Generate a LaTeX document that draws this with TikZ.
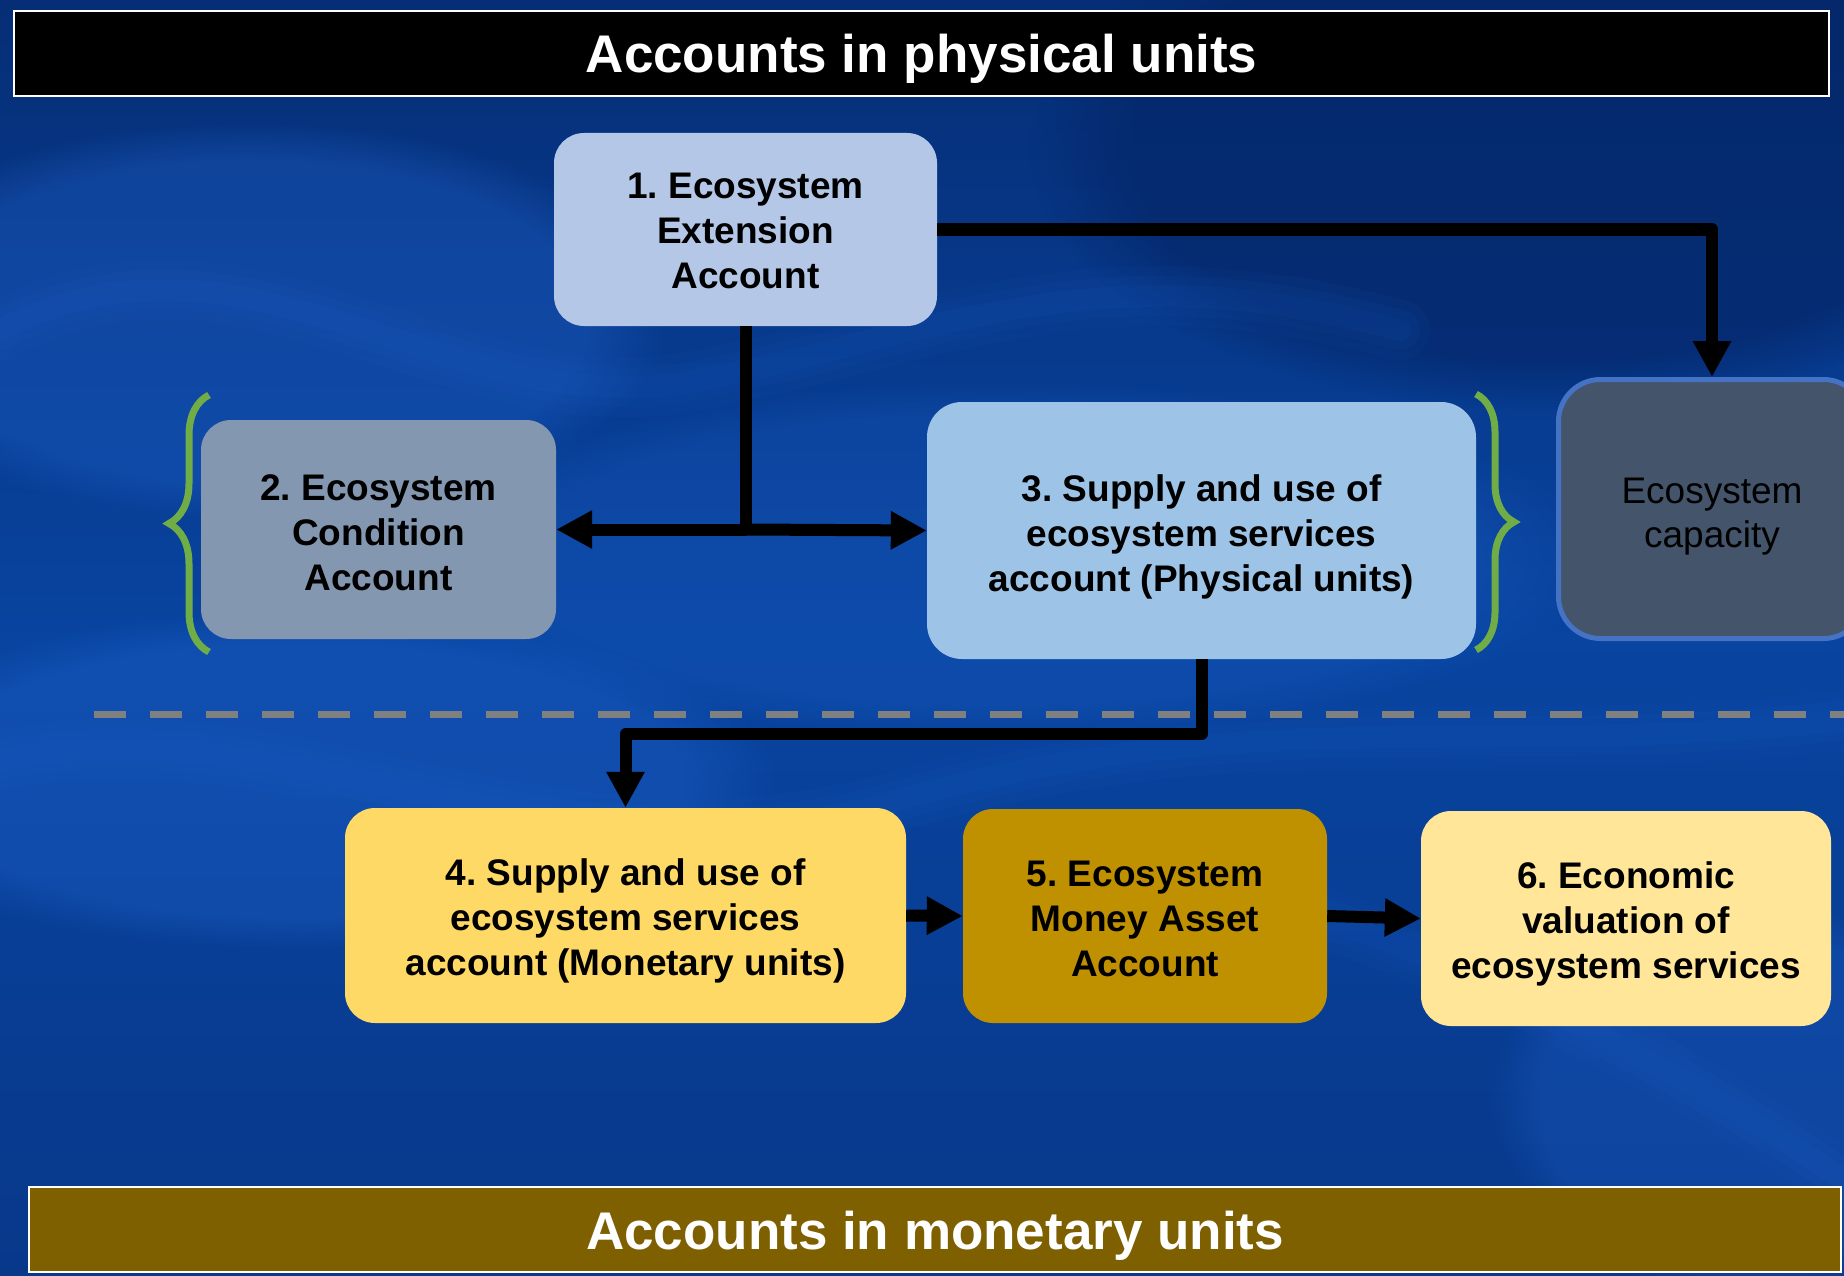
\documentclass[tikz,border=0pt]{standalone}
\usepackage{fontspec}
\setmainfont{Liberation Sans}
\frenchspacing
\usetikzlibrary{arrows.meta,decorations.pathreplacing,fadings}
\definecolor{bgtop}{RGB}{6,46,118}
\definecolor{bgmid}{RGB}{8,68,160}
\definecolor{bgbot}{RGB}{8,56,138}
\definecolor{glow}{RGB}{35,105,215}
\definecolor{dark}{RGB}{4,36,100}
\definecolor{cone}{RGB}{180,199,231}
\definecolor{ctwo}{RGB}{132,151,176}
\definecolor{cthree}{RGB}{157,195,230}
\definecolor{capfill}{RGB}{68,84,106}
\definecolor{capedge}{RGB}{68,114,196}
\definecolor{cfour}{RGB}{255,217,102}
\definecolor{cfive}{RGB}{191,144,0}
\definecolor{csix}{RGB}{255,230,153}
\definecolor{botbar}{RGB}{127,96,0}
\definecolor{sepgray}{RGB}{128,128,128}
\definecolor{bracegreen}{RGB}{112,173,71}
\newcommand{\lift}[1]{\rule{0pt}{#1pt}}
\begin{document}
\begin{tikzpicture}[x=1pt,y=-1pt,
  box/.style={rounded corners=30pt, inner sep=0pt, align=center,
              font=\fontsize{37}{45}\selectfont\bfseries\frenchspacing},
  bar/.style={draw=white, line width=2.5pt, inner sep=0pt, minimum height=85pt,
              text height=39pt, text depth=0pt,
              text=white, font=\fontsize{53}{60}\selectfont\bfseries},
  conn/.style={line width=12pt, line join=round, draw=black},
  tip/.style={-{Triangle[length=36pt,width=36pt]}},
  brc/.style={draw=bracegreen, line width=7pt, decorate},
  band/.style={draw=glow, line cap=round}
]
\useasboundingbox (0,0) rectangle (1844,1276);
\clip (0,0) rectangle (1844,1276);
% background
\shade[top color=bgtop, bottom color=bgbot, middle color=bgmid] (0,0) rectangle (1844,1276);
\fill[dark, opacity=0.6, path fading=circle with fuzzy edge 20 percent] (1550,150) ellipse (520pt and 260pt);
\fill[glow, opacity=0.3, path fading=circle with fuzzy edge 20 percent] (250,320) ellipse (420pt and 200pt);
\fill[glow, opacity=0.3, path fading=circle with fuzzy edge 20 percent] (300,780) ellipse (480pt and 170pt);
\fill[glow, opacity=0.2, path fading=circle with fuzzy edge 20 percent] (1000,560) ellipse (600pt and 180pt);
\fill[glow, opacity=0.25, path fading=circle with fuzzy edge 20 percent] (1750,1100) ellipse (260pt and 200pt);
\foreach \w/\o in {60/0.05,40/0.06,22/0.07}{
  \draw[band, line width=\w pt, opacity=\o] (0,330) .. controls (250,200) and (450,430) .. (700,380) .. controls (950,330) and (1100,250) .. (1400,330);
  \draw[band, line width=\w pt, opacity=\o] (0,760) .. controls (300,700) and (550,900) .. (900,800) .. controls (1250,700) and (1500,760) .. (1844,720);
  \draw[band, line width=\w pt, opacity=\o] (1200,880) .. controls (1450,950) and (1650,1050) .. (1844,1180);
}
% title bars
\node[bar, fill=black, minimum width=1815pt] (top) at (921.5,53.5) {Accounts in physical units};
\node[bar, fill=botbar, minimum width=1812pt] (bot) at (935,1229.5) {Accounts in monetary units};
% separator
\coordinate (sepL) at (94,714);
\coordinate (sepR) at (1850,714);
\draw[sepgray, line width=7pt, dash pattern=on 32pt off 24pt] (sepL) -- (sepR);
% boxes
\node[box, fill=cone, minimum width=383pt, minimum height=193pt] (b1) at (745.5,229.5) {\lift{29}1. Ecosystem\\Extension\\Account};
\node[box, fill=ctwo, minimum width=355pt, minimum height=219pt] (b2) at (378.5,529.5) {\lift{32}2. Ecosystem\\Condition\\Account};
\node[box, rounded corners=35pt, fill=cthree, minimum width=549pt, minimum height=257pt] (b3) at (1201.5,530.5) {\lift{39}3. Supply and use of\\ecosystem services\\account (Physical units)};
\node[box, rounded corners=42pt, fill=capfill, draw=capedge, line width=5pt,
      font=\fontsize{37}{44}\selectfont, minimum width=307pt, minimum height=259pt] (cap) at (1712,509) {\lift{41}Ecosystem\\capacity};
\node[box, fill=cfour, minimum width=561pt, minimum height=215pt] (b4) at (625.5,915.5) {\lift{38}4. Supply and use of\\ecosystem services\\account (Monetary units)};
\node[box, fill=cfive, minimum width=364pt, minimum height=214pt] (b5) at (1145,916) {\lift{32}5. Ecosystem\\Money Asset\\Account};
\node[box, fill=csix, minimum width=410pt, minimum height=215pt] (b6) at (1626,918.5) {\lift{37}6. Economic\\valuation of\\ecosystem services};
% braces
\draw[brc, decoration={brace, amplitude=40pt}] (209,652) -- (209,395);
\draw[brc, decoration={brace, amplitude=38pt}] (1476,394) -- (1476,650);
% connectors
\coordinate (j) at (b1.south |- b2.east);
\coordinate (k) at (900,734);
\draw[conn] (b1.south) -- (j);
\draw[conn, tip] (j) -- (b2.east);
\draw[conn, tip] (j) -- (b3.west);
\draw[conn, tip] (b1.east) -| (cap.north);
\draw[conn, tip] (b3.south) |- (k) -| (b4.north);
\draw[conn, tip] (b4.east) -- (b5.west);
\draw[conn, tip] (b5.east) -- (b6.west);
\end{tikzpicture}
\end{document}
